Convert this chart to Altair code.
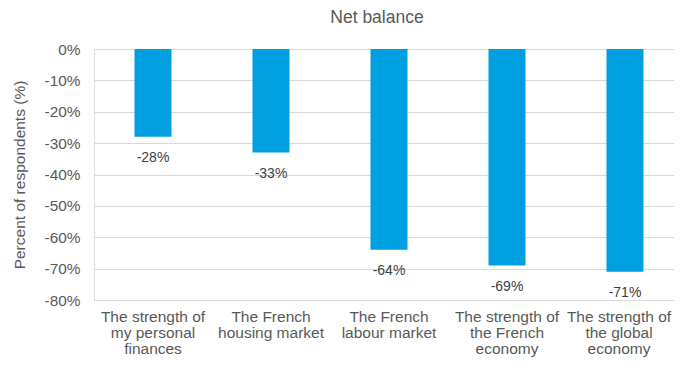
import altair as alt
import pandas as pd

categories = [
    "The strength of\nmy personal\nfinances",
    "The French\nhousing market",
    "The French\nlabour market",
    "The strength of\nthe French\neconomy",
    "The strength of\nthe global\neconomy",
]
values = [-28, -33, -64, -69, -71]
value_labels = ["-28%", "-33%", "-64%", "-69%", "-71%"]
y_ticks = [0, -10, -20, -30, -40, -50, -60, -70, -80]

df = pd.DataFrame({"category": categories, "value": values, "label": value_labels})

FONT = "Liberation Sans"
GREY = "#595959"

x_enc = alt.X(
    "category:N",
    sort=categories,
    scale=alt.Scale(paddingInner=0, paddingOuter=0, range=[0, 590]),
    axis=alt.Axis(
        title=None,
        labelExpr="split(datum.label, '\\n')",
        labelAngle=0,
        labelFont=FONT,
        labelFontSize=15.5,
        labelColor=GREY,
        labelLineHeight=16,
        labelPadding=21,
        labelBaseline="alphabetic",
        labelOffset={"condition": {"test": "indexof(datum.value, 'global') >= 0", "value": -6}, "value": 0},
        domainColor="#d9d9d9",
        ticks=False,
    ),
)
y_enc = alt.Y(
    "value:Q",
    scale=alt.Scale(domain=[-80, 0], nice=False, zero=True),
    axis=alt.Axis(
        values=y_ticks,
        labelExpr="datum.value + '%'",
        labelOverlap=False,
        title="Percent of respondents (%)",
        titleFont=FONT,
        titleFontSize=15.5,
        titleFontWeight="normal",
        titleColor=GREY,
        titlePadding=17,
        labelFont=FONT,
        labelFontSize=15.4,
        labelColor=GREY,
        labelPadding=14,
        grid=True,
        gridColor="#d9d9d9",
        domain=False,
        ticks=False,
    ),
)

base = alt.Chart(df).encode(x=x_enc, y=y_enc)
bars = base.mark_bar(color="#009FDF", size=37)
text = base.mark_text(baseline="alphabetic", dy=25.5, font=FONT, fontSize=14, color="#404040").encode(
    text="label:N",
)

chart = (
    alt.layer(bars, text)
    .properties(
        width=580,
        height=251,
        title=alt.TitleParams(
            "Net balance", font=FONT, fontSize=17.5, fontWeight="normal", color=GREY,
            anchor="middle", offset=16, dx=-7,
        ),
        autosize=alt.AutoSizeParams(type="none"),
        padding={"left": 86, "top": 41, "right": 0, "bottom": 57},
    )
    .configure_view(stroke=None)
    .configure(background="white")
)

chart.save("out.html", embed_options={"renderer": "svg", "actions": False})
